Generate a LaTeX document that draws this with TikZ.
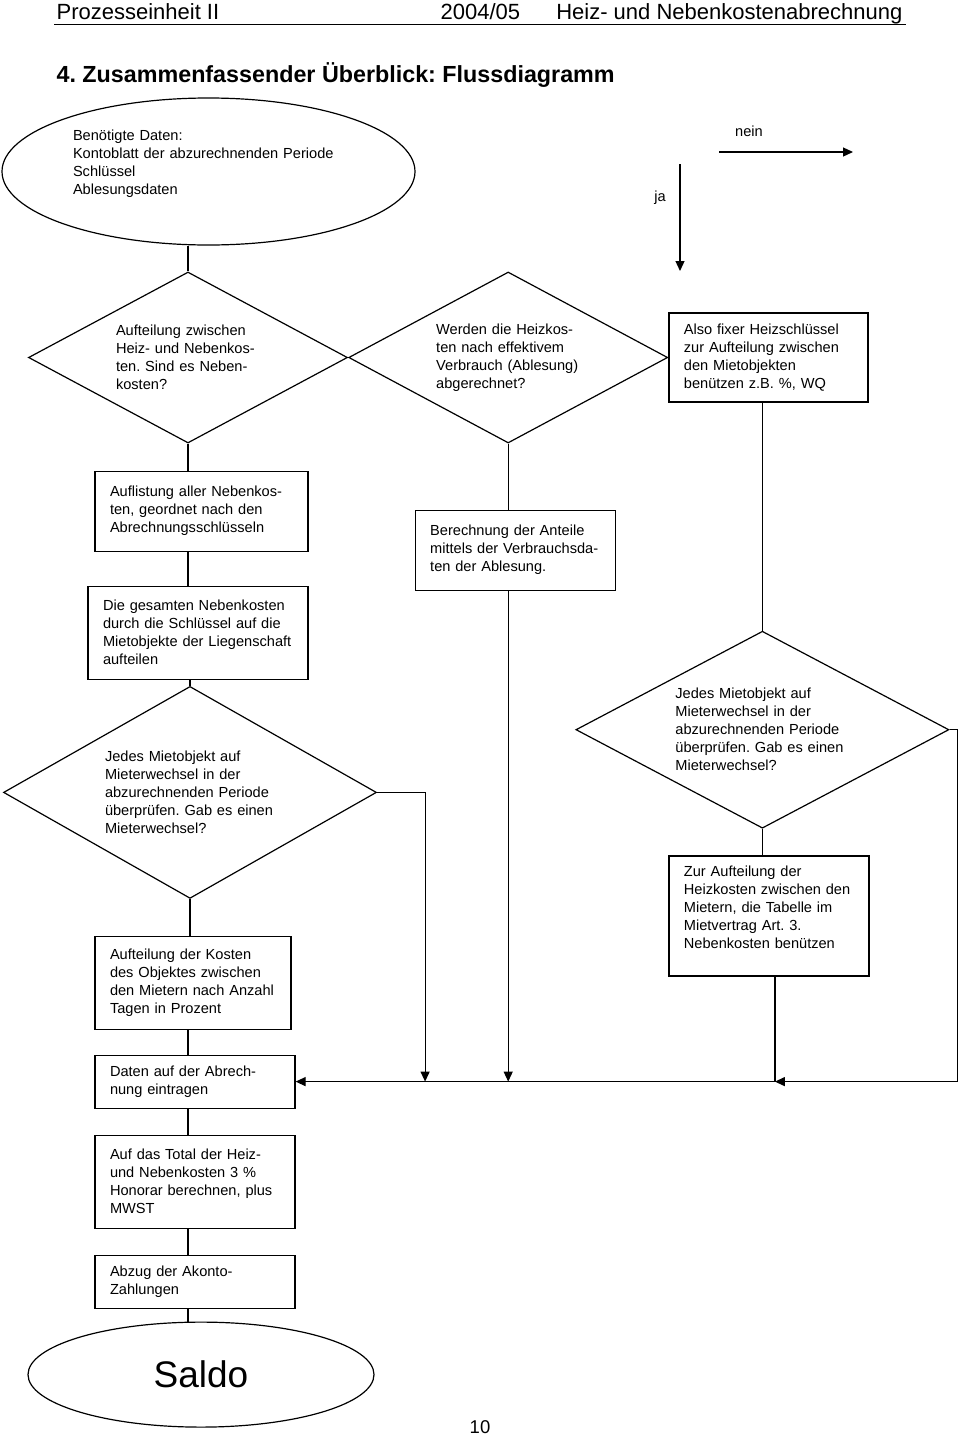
\documentclass[tikz,border=0pt]{standalone}
\usepackage{fontspec}
\setmainfont{Liberation Sans}
\usetikzlibrary{arrows.meta,positioning,shapes.geometric}
\frenchspacing
\newcommand{\flowfont}{\fontsize{14.6}{18}\selectfont}
\newcommand{\kopffont}{\fontsize{22}{26}\selectfont}

\begin{document}
\begin{tikzpicture}[x=1pt,y=-1pt,line width=1.2pt,>={Triangle[length=10pt,width=9pt]},
  box/.style={draw,rectangle,align=left,inner xsep=15pt,inner ysep=3pt,font=\flowfont},
  dia/.style={draw,diamond,align=left,inner sep=0pt,font=\flowfont},
  term/.style={draw,ellipse,inner sep=0pt},
  txt/.style={inner sep=0pt}]
  \useasboundingbox (0,0) rectangle (960,1435);
  % Kopfzeile
  \node[txt,anchor=base west,font=\kopffont] (kopf) at (56,19) {Prozesseinheit II};
  \node[txt,anchor=base west,font=\kopffont] (jahr) at (440,19) {2004/05};
  \node[txt,anchor=base east,font=\kopffont] (thema) at (903,19) {Heiz- und Nebenkostenabrechnung};
  \draw[line width=1pt] (54,24) -- (906,24);
  \node[txt,anchor=base west,font=\fontsize{23.3}{28}\selectfont\bfseries] (titel) at (56,82)
    {4. Zusammenfassender Überblick: Flussdiagramm};
  % Legende
  \coordinate (neinA) at (719,152); \coordinate (neinB) at (853,152);
  \coordinate (jaA) at (680,164); \coordinate (jaB) at (680,271);
  \draw[->] (neinA) -- (neinB); \draw[->] (jaA) -- (jaB);
  \node[txt,font=\flowfont] (nein) at (749,131) {nein};
  \node[txt,font=\flowfont] (ja) at (660,198) {ja};
  % Ablauf
  \node[term,minimum width=413pt,minimum height=147pt,text width=271pt,align=left,font=\flowfont] (daten) at (208.5,171.5)
    {Benötigte Daten:\\ Kontoblatt der abzurechnenden Periode\\ Schlüssel\\ Ablesungsdaten\\ \mbox{}};
  \node[dia,aspect=1.87,minimum width=319pt,minimum height=171pt,text width=144pt] (nk) at (188,357.5)
    {Aufteilung zwischen\\ Heiz- und Nebenkos-\\ ten. Sind es Neben-\\ kosten?};
  \node[dia,aspect=1.87,minimum width=319pt,minimum height=171pt,text width=144pt,right=0pt of nk] (verb)
    {Werden die Heizkos-\\ ten nach effektivem\\ Verbrauch (Ablesung)\\ abgerechnet?};
  \node[box,text width=169pt,minimum height=89pt,right=0pt of verb] (fix)
    {Also fixer Heizschlüssel\\ zur Aufteilung zwischen\\ den Mietobjekten\\ benützen z.B. \%, WQ};
  \node[box,text width=183pt,minimum height=80pt,below=27pt of nk,xshift=13.5pt] (liste)
    {Auflistung aller Nebenkos-\\ ten, geordnet nach den\\ Abrechnungsschlüsseln};
  \node[box,text width=190pt,minimum height=93pt,below=33.8pt of liste,xshift=-3.5pt] (verteil)
    {Die gesamten Nebenkosten\\ durch die Schlüssel auf die\\ Mietobjekte der Liegenschaft\\ aufteilen};
  \node[box,text width=170pt,minimum height=80pt,below=66pt of verb,xshift=7pt] (anteil)
    {Berechnung der Anteile\\ mittels der Verbrauchsda-\\ ten der Ablesung.};
  \node[dia,aspect=1.76,minimum width=373pt,minimum height=212pt,text width=170pt,below=6pt of verteil,xshift=-8pt] (wechselA)
    {Jedes Mietobjekt auf\\ Mieterwechsel in der\\ abzurechnenden Periode\\ überprüfen. Gab es einen\\ Mieterwechsel?};
  \node[dia,aspect=1.89,minimum width=373pt,minimum height=197pt,text width=174pt,below=228pt of fix,xshift=-6pt] (wechselB)
    {Jedes Mietobjekt auf\\ Mieterwechsel in der\\ abzurechnenden Periode\\ überprüfen. Gab es einen\\ Mieterwechsel?};
  \node[box,text width=170pt,minimum height=120pt,below=26.5pt of wechselB,xshift=6.5pt] (tabelle)
    {Zur Aufteilung der\\ Heizkosten zwischen den\\ Mietern, die Tabelle im\\ Mietvertrag Art. 3.\\ Nebenkosten benützen\\ \mbox{}};
  \node[box,text width=166pt,minimum height=93pt,below=36.5pt of wechselA,xshift=3pt] (tage)
    {Aufteilung der Kosten\\ des Objektes zwischen\\ den Mietern nach Anzahl\\ Tagen in Prozent};
  \node[box,text width=170pt,minimum height=53pt,below=24.8pt of tage,xshift=2pt] (eintrag)
    {Daten auf der Abrech-\\ nung eintragen};
  \node[box,text width=170pt,minimum height=93pt,below=25.8pt of eintrag] (honorar)
    {Auf das Total der Heiz-\\ und Nebenkosten 3 \%\\ Honorar berechnen, plus\\ MWST};
  \node[box,text width=170pt,minimum height=53pt,below=25.8pt of honorar] (akonto)
    {Abzug der Akonto-\\ Zahlungen};
  \node[term,minimum width=346pt,minimum height=105pt,font=\fontsize{37}{44}\selectfont,below=12.8pt of akonto,xshift=6pt] (saldo) {Saldo};
  \node[txt,font=\fontsize{18.5}{22}\selectfont] (seite) at (480,1427) {10};
  \coordinate (treff) at ([xshift=6pt]tabelle.south |- eintrag.east);
  % Verbindungen
  \draw (nk.north |- daten.south) -- (nk.north);
  \draw (nk.south) -- (nk.south |- liste.north); \draw (liste.south -| nk.south) -- (verteil.north -| nk.south);
  \draw (verteil.south -| wechselA.north) -- (wechselA.north); \draw (wechselA.south) -- (wechselA.south |- tage.north);
  \draw (tage.south -| nk.south) -- (eintrag.north -| nk.south); \draw (eintrag.south -| nk.south) -- (honorar.north -| nk.south);
  \draw (honorar.south -| nk.south) -- (akonto.north -| nk.south); \draw (akonto.south -| nk.south) -- (saldo.north -| nk.south);
  \draw (verb.south) -- (verb.south |- anteil.north);
  \draw[->] (anteil.south -| verb.south) -- (verb.south |- eintrag.east);
  \draw[->] (wechselA.east) -- ++(48,0) coordinate (knickA) -- (knickA |- eintrag.east);
  \draw (fix.south -| wechselB.north) -- (wechselB.north); \draw (wechselB.south) -- (wechselB.south |- tabelle.north);
  \draw ([xshift=6pt]tabelle.south) -- (treff);
  \draw[->] (wechselB.east) -- ++(8,0) coordinate (knickB) -- (knickB |- eintrag.east) -- (treff);
  \draw[->] (treff) -- (eintrag.east);
\end{tikzpicture}
\end{document}
